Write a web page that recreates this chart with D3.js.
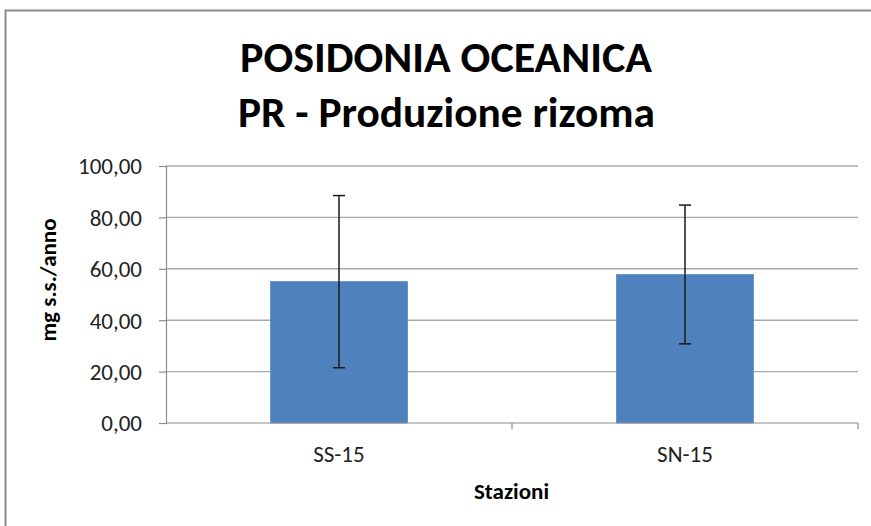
<!DOCTYPE html>
<html>
<head>
<meta charset="utf-8">
<script src="https://cdn.jsdelivr.net/npm/d3@7"></script>
<style>
  html, body { margin: 0; padding: 0; background: #fff; }
  svg { display: block; }
  text { font-family: Carlito, Calibri, "Open Sans", sans-serif; }
</style>
</head>
<body>
<svg id="chart" width="871" height="526"></svg>
<script>
// Rhizome production per station (mg s.s./anno), mean and standard deviation
const categories = ["SS-15", "SN-15"];
const means = [55.0, 57.8];
const errors = [33.5, 27.0];
const yTicks = [0, 20, 40, 60, 80, 100];
const titleLines = ["POSIDONIA OCEANICA", "PR - Produzione rizoma"];

const svg = d3.select("#chart");
const W = 871, H = 526;
const plot = { left: 166, right: 858, top: 166, bottom: 423 };

// outer chart frame
svg.append("rect")
  .attr("x", 5.5).attr("y", 10.5)
  .attr("width", W + 10).attr("height", H + 10)
  .attr("fill", "#fff")
  .attr("stroke", "#8c8c8c").attr("stroke-width", 2);

const x = d3.scaleBand().domain(categories).range([plot.left, plot.right]).padding(0);
const y = d3.scaleLinear().domain([0, 100]).range([plot.bottom, plot.top]);
const fmt = v => d3.format(".2f")(v).replace(".", ",");

// horizontal gridlines
svg.append("g")
  .selectAll("line")
  .data(yTicks.filter(t => t > 0))
  .join("line")
  .attr("x1", plot.left).attr("x2", plot.right)
  .attr("y1", d => y(d)).attr("y2", d => y(d))
  .attr("stroke", "#a8a8a8").attr("stroke-width", 1.4);

// y axis
const yAxis = svg.append("g")
  .attr("transform", `translate(${plot.left},0)`)
  .call(d3.axisLeft(y).tickValues(yTicks).tickFormat(fmt).tickSize(7).tickPadding(17));
yAxis.select(".domain").attr("stroke", "#8c8c8c").attr("stroke-width", 1.2);
yAxis.selectAll(".tick line").attr("stroke", "#8c8c8c").attr("stroke-width", 1.2);
yAxis.selectAll(".tick text")
  .attr("fill", "#222").attr("font-size", 23)
  .attr("dy", "0.34em")
  .style("font-family", 'Carlito, Calibri, "Open Sans", sans-serif');

// bars
const barW = x.bandwidth() * 0.396;
svg.append("g")
  .selectAll("rect")
  .data(categories)
  .join("rect")
  .attr("x", (d) => x(d) + (x.bandwidth() - barW) / 2)
  .attr("width", barW)
  .attr("y", (d, i) => y(means[i]))
  .attr("height", (d, i) => y(0) - y(means[i]))
  .attr("fill", "#4f81bd")
  .attr("stroke", "#5b8cc6").attr("stroke-width", 0.8);

// x axis line with ticks between categories
const xAxis = svg.append("g");
xAxis.append("line")
  .attr("x1", plot.left).attr("x2", plot.right)
  .attr("y1", y(0)).attr("y2", y(0))
  .attr("stroke", "#8c8c8c").attr("stroke-width", 1.2);
const boundaries = categories.map(c => x(c)).concat([x(categories[categories.length - 1]) + x.bandwidth()]);
xAxis.selectAll("line.tick")
  .data(boundaries.slice(1))
  .join("line")
  .attr("class", "tick")
  .attr("x1", d => d).attr("x2", d => d)
  .attr("y1", y(0)).attr("y2", y(0) + 6)
  .attr("stroke", "#8c8c8c").attr("stroke-width", 1.2);
xAxis.selectAll("text")
  .data(categories)
  .join("text")
  .attr("x", d => x(d) + x.bandwidth() / 2)
  .attr("y", 462)
  .attr("text-anchor", "middle")
  .attr("font-size", 23)
  .attr("fill", "#222")
  .text(d => d);

// error bars
const eb = svg.append("g").attr("stroke", "#1a1a1a").attr("stroke-width", 1.5);
categories.forEach((c, i) => {
  const cx = x(c) + x.bandwidth() / 2;
  const hi = y(means[i] + errors[i]), lo = y(means[i] - errors[i]);
  eb.append("line").attr("x1", cx).attr("x2", cx).attr("y1", hi).attr("y2", lo);
  eb.append("line").attr("x1", cx - 6).attr("x2", cx + 6).attr("y1", hi).attr("y2", hi);
  eb.append("line").attr("x1", cx - 6).attr("x2", cx + 6).attr("y1", lo).attr("y2", lo);
});

// chart title
svg.append("text")
  .attr("x", 446).attr("y", 72)
  .attr("text-anchor", "middle")
  .attr("font-size", 42).attr("font-weight", "bold").attr("fill", "#000")
  .attr("textLength", 412).attr("lengthAdjust", "spacingAndGlyphs")
  .text(titleLines[0]);
svg.append("text")
  .attr("x", 446.5).attr("y", 126.5)
  .attr("text-anchor", "middle")
  .attr("font-size", 42).attr("font-weight", "bold").attr("fill", "#000")
  .attr("textLength", 417).attr("lengthAdjust", "spacingAndGlyphs")
  .text(titleLines[1]);

// axis titles
svg.append("text")
  .attr("x", 511.5).attr("y", 499)
  .attr("text-anchor", "middle")
  .attr("font-size", 23).attr("font-weight", "bold").attr("fill", "#000")
  .text("Stazioni");
svg.append("text")
  .attr("transform", "translate(56,280) rotate(-90)")
  .attr("text-anchor", "middle")
  .attr("font-size", 23).attr("font-weight", "bold").attr("fill", "#000")
  .text("mg s.s./anno");
</script>
</body>
</html>
